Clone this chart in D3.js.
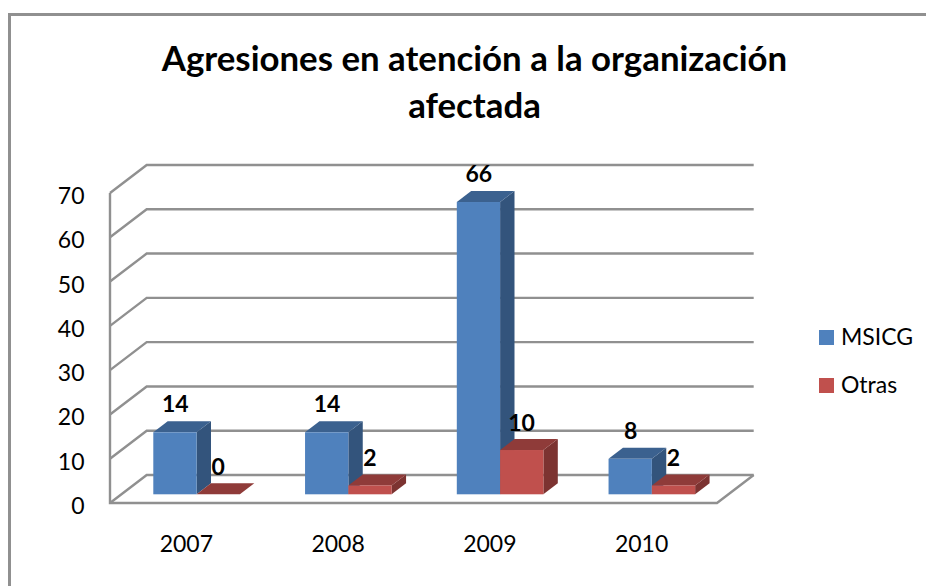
<!DOCTYPE html>
<html><head><meta charset="utf-8">
<style>html,body{margin:0;padding:0;background:#fff}svg{display:block}text{font-family:Lato,"Open Sans",sans-serif;fill:#000}</style>
<script src="https://cdn.jsdelivr.net/npm/d3@7/dist/d3.min.js"></script></head>
<body><svg id="c" width="926" height="586"></svg>
<script>
const years = ["2007","2008","2009","2010"];
const seriesNames = ["MSICG","Otras"];
const msicg = [14,14,66,8];
const otras = [0,2,10,2];
const yTicks = [0,10,20,30,40,50,60,70];
const titleLines = ["Agresiones en atención a la organización","afectada"];
const colors = {MSICG:{front:"#4f81bd",top:"#3b618f",side:"#33547c"},Otras:{front:"#c0504d",top:"#8f3b39",side:"#7c3331"}};

const svg = d3.select("#c");
const grid = "#909090";
svg.append("path").attr("d","M9.5,586V14.5H926").attr("fill","none").attr("stroke",grid).attr("stroke-width",3);

const x = d3.scaleBand().domain(years).range([110,717]);
const yFront = d3.scaleLinear().domain([0,70]).range([503,193]);
const dx = 36.7, dy = 28;
const g = svg.append("g").attr("fill","none").attr("stroke",grid).attr("stroke-width",2.4);
yTicks.forEach(t=>{
  const y0 = yFront(t);
  g.append("path").attr("d",`M110,${y0}L${110+dx},${y0-dy}H${717+dx}`);
});
g.append("path").attr("d",`M110,${yFront(70)}V${yFront(0)}H717L${717+dx},${yFront(0)-dy}`);

svg.append("g").selectAll("text").data(yTicks).join("text")
  .attr("x",84.5).attr("y",d=>yFront(d)+11).attr("text-anchor","end").attr("font-size",23).text(d=>d);
svg.append("g").selectAll("text").data(years).join("text")
  .attr("x",d=>x(d)+x.bandwidth()/2+0.5).attr("y",552).attr("text-anchor","middle").attr("font-size",23).text(d=>d);

const barW = 43.3, ox = 43.3, bdx = 14.4, bdy = 11;
const yBar = d3.scaleLinear().domain([0,70]).range([494.3,184.3]);
function bar(gp,x0,v,c){
  const yt = yBar(v), yb = yBar(0), xr = x0+barW;
  gp.append("path").attr("fill",c.side).attr("d",`M${xr},${yt}L${xr+bdx},${yt-bdy}V${yb-bdy}L${xr},${yb}Z`);
  gp.append("path").attr("fill",c.top).attr("d",`M${x0},${yt}L${x0+bdx},${yt-bdy}H${xr+bdx}L${xr},${yt}Z`);
  gp.append("rect").attr("fill",c.front).attr("x",x0).attr("y",yt).attr("width",barW).attr("height",yb-yt);
}
const bars = svg.append("g");
years.forEach((yr,i)=>{
  const x0 = x(yr)+ox;
  bar(bars,x0,msicg[i],colors.MSICG);
  bar(bars,x0+barW,otras[i],colors.Otras);
});
const labels = svg.append("g").attr("font-size",23).attr("font-weight",700);
years.forEach((yr,i)=>{
  const x0 = x(yr)+ox;
  labels.append("text").attr("x",x0+22).attr("y",yBar(msicg[i])-20).attr("text-anchor","middle").attr("font-weight",700).text(msicg[i]);
  labels.append("text").attr("x",x0+barW+21.5).attr("y",yBar(otras[i])-19.5).attr("text-anchor","middle").attr("font-weight",700).text(otras[i]);
});
svg.append("g").selectAll("text").data(titleLines).join("text")
  .attr("x",474.5).attr("y",(d,i)=>71+i*47).attr("text-anchor","middle").attr("font-size",34.8).attr("font-weight",700).text(d=>d);

const leg = svg.append("g");
seriesNames.forEach((n,i)=>{
  const ly = 330+i*48;
  leg.append("rect").attr("x",819).attr("y",ly).attr("width",15).attr("height",15).attr("fill",colors[n].front);
  leg.append("text").attr("x",841).attr("y",ly+15).attr("font-size",23).text(n);
});
</script></body></html>
